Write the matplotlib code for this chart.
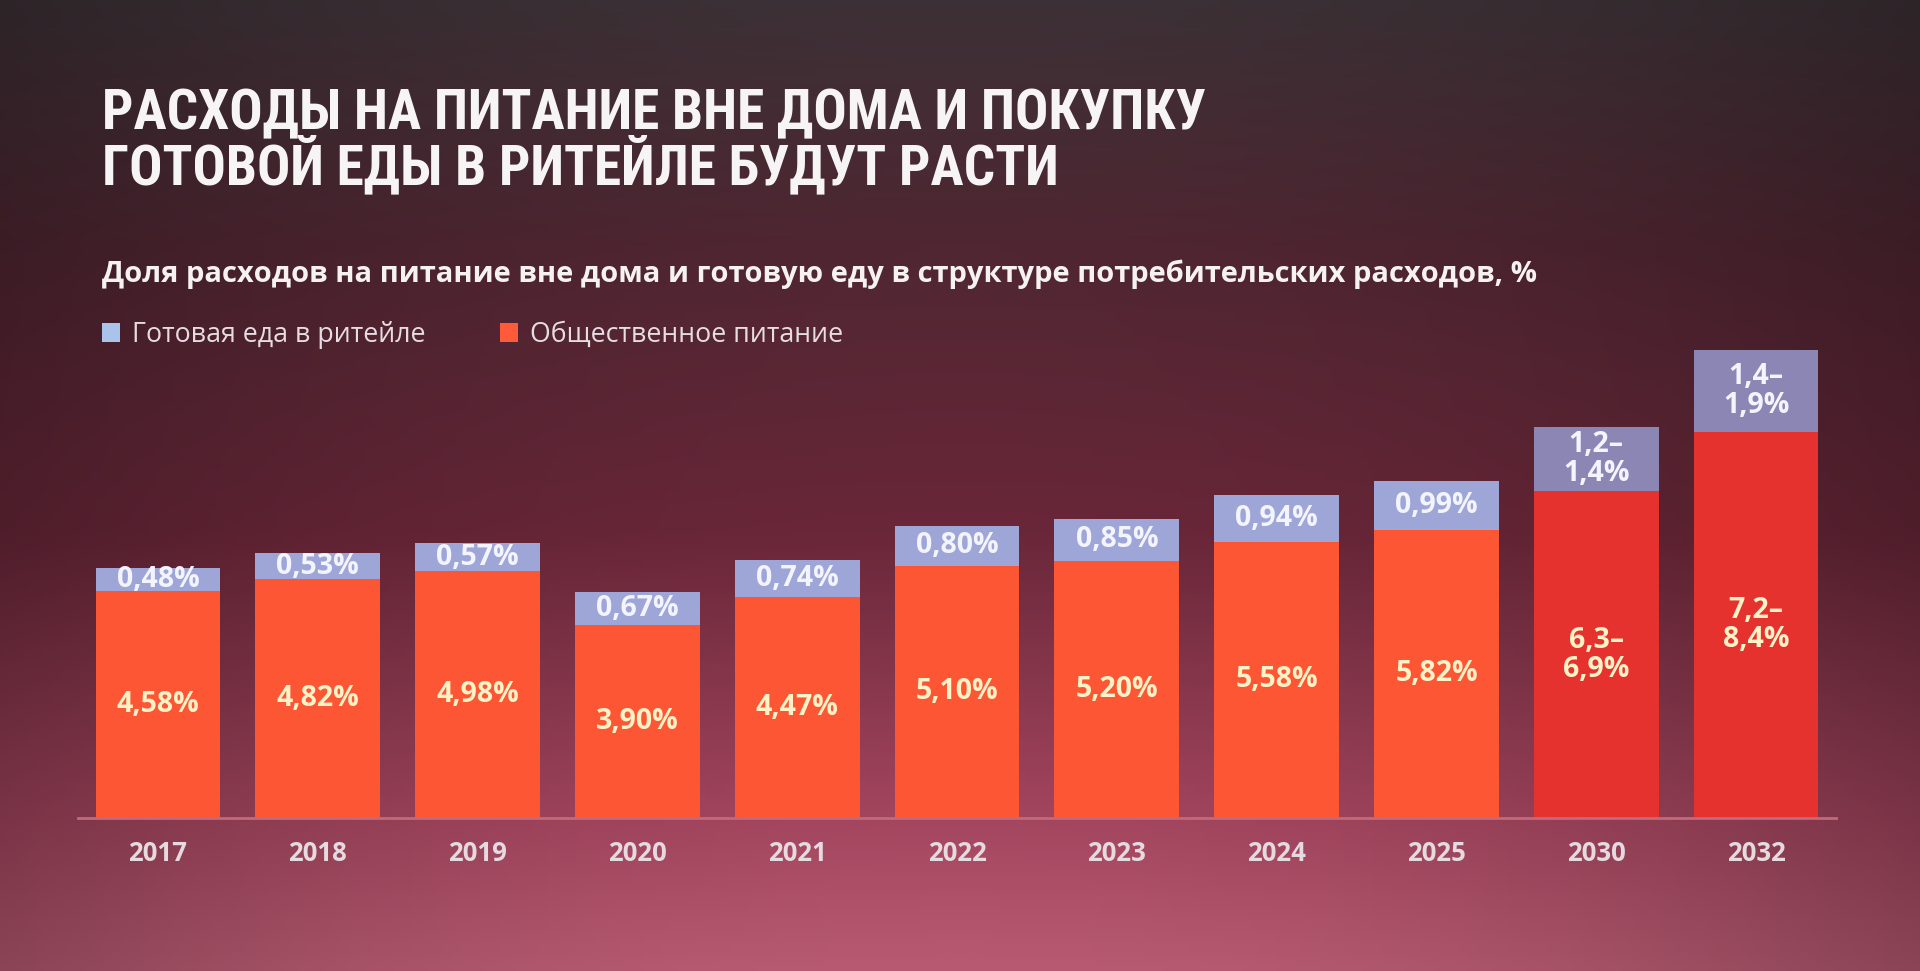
import numpy as np
import matplotlib
matplotlib.use("Agg")
import matplotlib.pyplot as plt
from matplotlib.colors import LinearSegmentedColormap
from matplotlib.patches import Rectangle

# data
years = ["2017", "2018", "2019", "2020", "2021", "2022", "2023", "2024", "2025", "2030", "2032"]
catering = [4.58, 4.82, 4.98, 3.90, 4.47, 5.10, 5.20, 5.58, 5.82, 6.6, 7.8]
retail = [0.48, 0.53, 0.57, 0.67, 0.74, 0.80, 0.85, 0.94, 0.99, 1.3, 1.65]
catering_labels = ["4,58%", "4,82%", "4,98%", "3,90%", "4,47%", "5,10%", "5,20%",
                   "5,58%", "5,82%", "6,3–\n6,9%", "7,2–\n8,4%"]
retail_labels = ["0,48%", "0,53%", "0,57%", "0,67%", "0,74%", "0,80%", "0,85%",
                 "0,94%", "0,99%", "1,2–\n1,4%", "1,4–\n1,9%"]
forecast = [False] * 9 + [True, True]

title_lines = ["РАСХОДЫ НА ПИТАНИЕ ВНЕ ДОМА И ПОКУПКУ",
               "ГОТОВОЙ ЕДЫ В РИТЕЙЛЕ БУДУТ РАСТИ"]
subtitle = "Доля расходов на питание вне дома и готовую еду в структуре потребительских расходов, %"
legend_labels = ["Готовая еда в ритейле", "Общественное питание"]

W, H = 1920, 971
fig = plt.figure(figsize=(W / 100, H / 100), dpi=100)

# background: photo of a projected slide, dark top, pinkish bottom
bg_ax = fig.add_axes([0, 0, 1, 1], zorder=-10)
bg_ax.set_axis_off()
vert = LinearSegmentedColormap.from_list(
    "bg", [(0.0, "#3c3136"), (0.25, "#4f2632"), (0.55, "#6a2739"),
           (0.85, "#a4465f"), (1.0, "#b85b72")])
yy = np.linspace(0, 1, 300)[:, None]
xx = np.linspace(0, 1, 400)[None, :]
img = vert(np.repeat(yy, 400, axis=1))[:, :, :3]
shade = 1 - 0.25 * ((xx - 0.5) * 2) ** 2
img = img * shade[:, :, None]
bg_ax.imshow(img, aspect="auto", extent=[0, 1, 0, 1], origin="upper")
bg_ax.set_xlim(0, 1)
bg_ax.set_ylim(0, 1)

c_orange = "#fc5634"
c_red = "#e5322f"
c_blue = "#9ea6d8"
c_blue_f = "#8c86b4"

base_px = 818
top_px = 200
px_per_pct = 49.5
ax = fig.add_axes([78 / W, (H - base_px) / H, 1758 / W, (base_px - top_px) / H])
ax.set_facecolor("none")
x = np.arange(len(years))
ax.set_xlim(-0.5, len(years) - 0.5)
ax.set_ylim(0, (base_px - top_px) / px_per_pct)

col_main = [c_red if f else c_orange for f in forecast]
col_top = [c_blue_f if f else c_blue for f in forecast]
ax.bar(x, catering, width=0.78, color=col_main, zorder=2)
ax.bar(x, retail, width=0.78, bottom=catering, color=col_top, zorder=2)

val_font = dict(family=["Open Sans", "DejaVu Sans"], fontsize=20.5, fontweight="bold")
for i in range(len(years)):
    ax.text(x[i], catering[i] / 2, catering_labels[i], ha="center", va="center",
            color="#fff2c6", linespacing=1.0, zorder=3, **val_font)
    ax.text(x[i], catering[i] + retail[i] / 2, retail_labels[i], ha="center", va="center",
            color="#f4f4ff", linespacing=1.0, zorder=3, **val_font)

for s in ["top", "right", "left"]:
    ax.spines[s].set_visible(False)
ax.spines["bottom"].set_color("#c06a7c")
ax.spines["bottom"].set_linewidth(2)
ax.set_yticks([])
ax.set_xticks(x)
ax.set_xticklabels(years, family=["Open Sans", "DejaVu Sans"], fontsize=18.5,
                   fontweight="bold", color="#e6dae1")
ax.tick_params(axis="x", length=0, pad=16)

# titles
renderer = fig.canvas.get_renderer()


def fit_text(txt, target_w):
    w = txt.get_window_extent(renderer).width
    txt.set_fontsize(txt.get_fontsize() * target_w / w)


title_font = ["Roboto Condensed", "Liberation Sans Narrow", "Roboto", "DejaVu Sans"]
t1 = fig.text(102 / W, 1 - 129 / H, title_lines[0], family=title_font, fontsize=44,
              fontweight="heavy", color="#f6f4f4", va="baseline")
fit_text(t1, 1104)
fs = t1.get_fontsize()
t2 = fig.text(102 / W, 1 - 184 / H, title_lines[1], family=title_font, fontsize=fs,
              fontweight="heavy", color="#f6f4f4", va="baseline")

st = fig.text(102 / W, 1 - 282 / H, subtitle, family=["Open Sans", "DejaVu Sans"],
              fontsize=21, fontweight="bold", color="#f6f2f2", va="baseline")
fit_text(st, 1432)

# legend
leg_cols = ["#a9c3ea", "#ff5a3a"]
leg_sq_x = [102, 500]
leg_txt_x = [132, 530]
leg_txt_w = [294, 314]
for lc, sx, tx, tw, lab in zip(leg_cols, leg_sq_x, leg_txt_x, leg_txt_w, legend_labels):
    fig.patches.append(Rectangle((sx / W, 1 - 342 / H), 18 / W, 19 / H,
                                 transform=fig.transFigure, facecolor=lc,
                                 edgecolor="none"))
    lt = fig.text(tx / W, 1 - 342 / H, lab, family=["Open Sans", "DejaVu Sans"],
                  fontsize=18, fontweight="medium", color="#e6dde2", va="baseline")
    fit_text(lt, tw)

fig.savefig("out.png", dpi=100)
